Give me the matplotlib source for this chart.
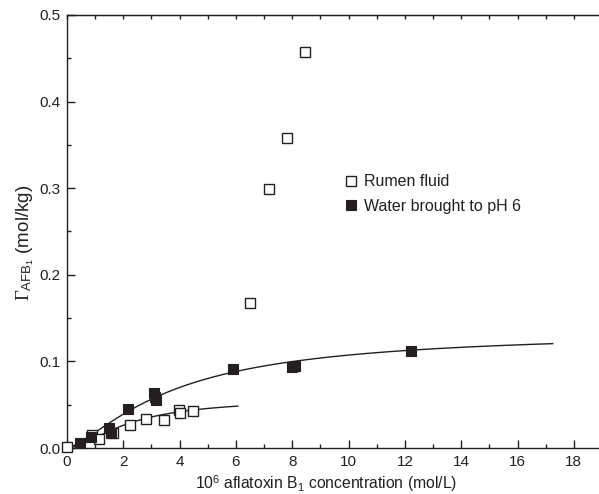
import numpy as np
import matplotlib
matplotlib.use("Agg")
import matplotlib.pyplot as plt
from matplotlib.ticker import MultipleLocator

plt.rcParams['font.family'] = ['Liberation Sans', 'DejaVu Sans']
plt.rcParams['mathtext.fontset'] = 'custom'
plt.rcParams['mathtext.rm'] = 'Liberation Serif'
plt.rcParams['mathtext.sf'] = 'Liberation Sans'
plt.rcParams['mathtext.it'] = 'Liberation Serif:italic'

INK = '#231f20'

# Rumen fluid (open squares)
rumen_x = [0.0, 0.9, 1.15, 1.64, 2.24, 2.8, 3.45, 3.99, 4.0, 4.49, 6.5, 7.17, 7.82, 8.47]
rumen_y = [0.0015, 0.015, 0.010, 0.017, 0.027, 0.033, 0.032, 0.044, 0.040, 0.043, 0.168, 0.299, 0.358, 0.457]

# Water brought to pH 6 (filled squares)
water_x = [0.46, 0.85, 1.5, 1.58, 2.18, 3.1, 3.12, 3.15, 5.9, 8.0, 8.1, 12.21]
water_y = [0.006, 0.013, 0.023, 0.017, 0.045, 0.063, 0.059, 0.055, 0.091, 0.094, 0.095, 0.112]

# Fitted isotherm curves (Hill-type: a*c^n/(b^n+c^n)) and their plotted ranges
rumen_fit = dict(a=0.057, b=2.2, n=1.7, cmax=6.06)
water_fit = dict(a=0.135, b=3.8, n=1.4, cmax=17.25)

x_ticks = [0, 2, 4, 6, 8, 10, 12, 14, 16, 18]
y_ticks = [0.0, 0.1, 0.2, 0.3, 0.4, 0.5]


def hill(c, a, b, n):
    return a * c**n / (b**n + c**n)


fig = plt.figure(figsize=(5.99, 4.94), dpi=100)
ax = fig.add_axes([67/599, 1-448/494, (602-67)/599, (448-15)/494])

for fit in (rumen_fit, water_fit):
    c = np.linspace(0, fit['cmax'], 300)
    ax.plot(c, hill(c, fit['a'], fit['b'], fit['n']), color=INK, lw=1.0, zorder=2)

ax.plot(rumen_x, rumen_y, ls='none', marker='s', ms=6.5, mfc='white', mec=INK,
        mew=1.0, label='Rumen fluid', zorder=3, clip_on=False)
ax.plot(water_x, water_y, ls='none', marker='s', ms=7, mfc=INK, mec=INK,
        mew=0.8, label='Water brought to pH 6', zorder=4, clip_on=False)

ax.set_xlim(0, 19)
ax.set_ylim(0, 0.5)
ax.set_xticks(x_ticks)
ax.set_yticks(y_ticks)
ax.set_yticklabels([f'{v:.1f}' for v in y_ticks])
ax.xaxis.set_minor_locator(MultipleLocator(1))
ax.yaxis.set_minor_locator(MultipleLocator(0.05))
ax.tick_params(which='both', direction='in', top=False, right=False,
               colors=INK, labelcolor=INK, labelsize=11, width=1.0)
ax.tick_params(which='major', length=6, pad=5)
ax.tick_params(which='minor', length=3)
ax.spines['right'].set_visible(False)
for s in ax.spines.values():
    s.set_color(INK)
    s.set_linewidth(1.0)

# top axis: small uniform ticks every unit, no labels
top = ax.secondary_xaxis('top')
top.set_xticks(list(range(0, 19)))
top.tick_params(direction='in', length=3, width=1.0, colors=INK, labeltop=False)
top.spines['top'].set_color(INK)

ax.set_xlabel(r'10$^{\mathsf{6}}$ aflatoxin B$_{\mathsf{1}}$ concentration (mol/L)',
              fontsize=11.3, color=INK)
ax.xaxis.set_label_coords(0.484, -0.058)
ax.set_ylabel(r'$\Gamma_{\mathsf{AFB}_{\mathsf{1}}}$ (mol/kg)', fontsize=13.5, color=INK)
ax.yaxis.set_label_coords(-0.058, 0.473)

leg = ax.legend(loc='upper left', bbox_to_anchor=(0.492, 0.665), frameon=False,
                fontsize=11.5, handlelength=0.8, handletextpad=0.4, labelspacing=0.6,
                labelcolor=INK)

fig.savefig('out.png', dpi=100)
